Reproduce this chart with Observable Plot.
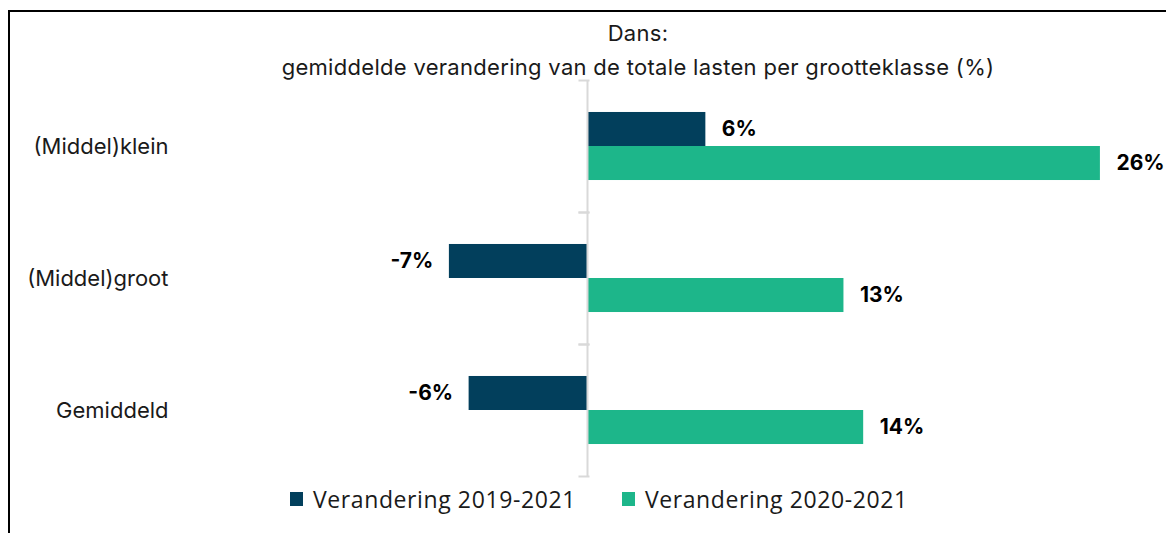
<!DOCTYPE html>
<html>
<head>
<meta charset="utf-8">
<script src="https://cdn.jsdelivr.net/npm/d3@7"></script>
<script src="https://cdn.jsdelivr.net/npm/@observablehq/plot@0.6"></script>
<style>
  html, body { margin: 0; padding: 0; background: #fff; }
  body { width: 1166px; height: 533px; position: relative; overflow: hidden; font-family: Inter, sans-serif; }
  #frame { position: absolute; left: 8px; top: 10px; width: 1300px; height: 700px; border-left: 2px solid #000; border-top: 2px solid #000; box-sizing: border-box; }
  #title { position: absolute; left: 0; top: 16px; width: 1276px; text-align: center; font-size: 22px; letter-spacing: 0.3px; line-height: 34px; color: #1a1a1a; }
  #chart { position: absolute; left: 0; top: 0; }
  #legend { position: absolute; left: 290px; top: 483px; display: flex; align-items: center; font-family: "Open Sans", sans-serif; font-size: 23px; letter-spacing: 0.6px; color: #1a1a1a; }
  .item { display: flex; align-items: center; margin-right: 46px; }
  .sw { width: 13px; height: 14px; margin-right: 10px; }
</style>
</head>
<body>
<div id="frame"></div>
<div id="title">Dans:<br>gemiddelde verandering van de totale lasten per grootteklasse (%)</div>
<div id="chart"></div>
<div id="legend"></div>
<script>
const categories = ["(Middel)klein", "(Middel)groot", "Gemiddeld"];
const series = ["Verandering 2019-2021", "Verandering 2020-2021"];
const values2019_2021 = [6, -7, -6];
const values2020_2021 = [26, 13, 14];
const colors = ["#023f5c", "#1db68a"];

const data = [];
categories.forEach((c, i) => {
  data.push({category: c, series: series[0], value: values2019_2021[i]});
  data.push({category: c, series: series[1], value: values2020_2021[i]});
});

const xDomain = [-20.63, 29.35];
const marginLeft = 180;
const width = 1166;
const xs = Plot.scale({x: {domain: xDomain, range: [marginLeft, width]}});
const tickLen = 8;
const zeroPx = xs.apply(0);

const chart = Plot.plot({
  width,
  height: 80 + 396 + 10,
  marginTop: 80,
  marginBottom: 10,
  marginLeft,
  marginRight: 0,
  style: {fontFamily: "Inter, sans-serif", background: "transparent"},
  x: {domain: xDomain, axis: null},
  y: {domain: series, axis: null, paddingInner: 0, paddingOuter: 0.94, round: false},
  fy: {domain: categories, padding: 0, round: false},
  color: {domain: series, range: colors},
  marks: [
    Plot.axisFy({anchor: "left", tickSize: 0, tickPadding: marginLeft - 168, fontSize: 22, label: null, fill: "#1a1a1a"}),
    Plot.barX(data, {fy: "category", y: "series", x1: 0, x2: "value", fill: "series"}),
    Plot.ruleX([0], {stroke: "#d9d9d9", strokeWidth: 2}),
    Plot.frame({anchor: "top", stroke: "#d9d9d9", strokeWidth: 2, insetLeft: zeroPx - tickLen - marginLeft, insetRight: width - zeroPx - 1}),
    Plot.frame({anchor: "bottom", stroke: "#d9d9d9", strokeWidth: 2, insetLeft: zeroPx - tickLen - marginLeft, insetRight: width - zeroPx - 1}),
    Plot.text(data, {filter: d => d.value >= 0, fy: "category", y: "series", x: "value", text: d => d.value + "%", textAnchor: "start", dx: 16, fontSize: 21, fontWeight: "bold", fill: "#000"}),
    Plot.text(data, {filter: d => d.value < 0, fy: "category", y: "series", x: "value", text: d => d.value + "%", textAnchor: "end", dx: -16, fontSize: 21, fontWeight: "bold", fill: "#000"})
  ]
});
document.getElementById("chart").appendChild(chart);

const legend = document.getElementById("legend");
series.forEach((s, i) => {
  const item = document.createElement("div");
  item.className = "item";
  const sw = document.createElement("div");
  sw.className = "sw";
  sw.style.background = colors[i];
  const t = document.createElement("span");
  t.textContent = s;
  item.appendChild(sw);
  item.appendChild(t);
  legend.appendChild(item);
});
</script>
</body>
</html>
